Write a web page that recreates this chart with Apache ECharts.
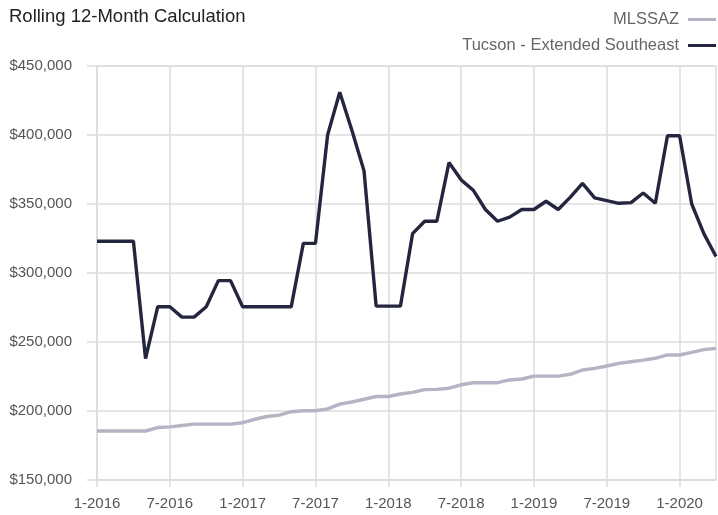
<!DOCTYPE html>
<html>
<head>
<meta charset="utf-8">
<title>Rolling 12-Month Calculation</title>
<script src="https://cdn.jsdelivr.net/npm/echarts@6/dist/echarts.min.js"></script>
<style>
  html, body { margin: 0; padding: 0; background: #ffffff; }
  #chart { width: 718px; height: 515px; }
</style>
</head>
<body>
<div id="chart"></div>
<script>
// Monthly categories, January 2016 through April 2020
const months = [
  '1-2016','2-2016','3-2016','4-2016','5-2016','6-2016','7-2016','8-2016','9-2016','10-2016','11-2016','12-2016',
  '1-2017','2-2017','3-2017','4-2017','5-2017','6-2017','7-2017','8-2017','9-2017','10-2017','11-2017','12-2017',
  '1-2018','2-2018','3-2018','4-2018','5-2018','6-2018','7-2018','8-2018','9-2018','10-2018','11-2018','12-2018',
  '1-2019','2-2019','3-2019','4-2019','5-2019','6-2019','7-2019','8-2019','9-2019','10-2019','11-2019','12-2019',
  '1-2020','2-2020','3-2020','4-2020'
];

// Rolling 12-month median price, statewide
const mlssaz = [
  185500, 185500, 185500, 185500, 185500, 188000, 188500, 189500, 190500, 190500, 190500, 190500,
  191500, 194000, 196000, 197000, 199500, 200200, 200200, 201500, 205000, 206500, 208500, 210500,
  210500, 212300, 213500, 215500, 215700, 216500, 219000, 220500, 220500, 220500, 222500, 223200,
  225300, 225300, 225300, 226600, 229700, 230900, 232600, 234500, 235700, 236900, 238200, 240600,
  240600, 242500, 244500, 245400
];

// Rolling 12-month median price, Tucson - Extended Southeast
const tucsonSE = [
  323000, 323000, 323000, 323000, 238000, 275500, 275500, 268000, 268000, 275500, 294500, 294500,
  275500, 275500, 275500, 275500, 275500, 321500, 321500, 400000, 431000, 403500, 374000, 276000,
  276000, 276000, 328500, 337500, 337500, 380000, 367500, 360000, 346000, 337500, 340500, 346000,
  346000, 352000, 346000, 355000, 365000, 354500, 352500, 350500, 351000, 358000, 350500, 399500,
  399500, 350000, 328500, 312000
];

const yTicks = { min: 150000, max: 450000, step: 50000 };

const FONT = '"Liberation Sans", Arial, sans-serif';
const GRID_COLOR = '#dddddd';

const chart = echarts.init(document.getElementById('chart'), null, { renderer: 'canvas' });

chart.setOption({
  animation: false,
  backgroundColor: '#ffffff',
  title: {
    text: 'Rolling 12-Month Calculation',
    left: 4,
    top: 2,
    textStyle: { fontFamily: FONT, fontSize: 18.5, fontWeight: 'normal', color: '#222222' }
  },
  legend: {
    orient: 'vertical',
    right: 2,
    top: 11,
    padding: 0,
    align: 'right',
    itemWidth: 28,
    itemHeight: 3,
    itemGap: 9,
    icon: 'rect',
    textStyle: { fontFamily: FONT, fontSize: 16.5, color: '#666666', padding: [0, 4, 0, 0] },
    data: ['MLSSAZ', 'Tucson - Extended Southeast']
  },
  grid: {
    left: 97,
    right: 2,
    top: 66,
    bottom: 35,
    show: true,
    borderColor: GRID_COLOR,
    borderWidth: 1.5
  },
  xAxis: {
    type: 'category',
    data: months,
    boundaryGap: false,
    axisLine: { show: true, lineStyle: { color: GRID_COLOR, width: 1.5 } },
    axisTick: { show: true, interval: 5, length: 7, lineStyle: { color: GRID_COLOR, width: 1.5 } },
    splitLine: { show: true, interval: 5, lineStyle: { color: GRID_COLOR, width: 1.5 } },
    axisLabel: {
      interval: 5,
      margin: 16,
      fontFamily: FONT,
      fontSize: 15,
      color: '#555555'
    }
  },
  yAxis: {
    type: 'value',
    min: yTicks.min,
    max: yTicks.max,
    interval: yTicks.step,
    axisLine: { show: true, lineStyle: { color: GRID_COLOR, width: 1.5 } },
    axisTick: { show: true, length: 10, lineStyle: { color: GRID_COLOR, width: 1.5 } },
    splitLine: { show: true, lineStyle: { color: GRID_COLOR, width: 1.5 } },
    axisLabel: {
      margin: 25,
      fontFamily: FONT,
      fontSize: 15,
      color: '#555555',
      formatter: function (v) { return '$' + v.toLocaleString('en-US'); }
    }
  },
  series: [
    {
      name: 'MLSSAZ',
      type: 'line',
      data: mlssaz,
      showSymbol: false,
      symbol: 'none',
      color: '#b5b3c4',
      lineStyle: { width: 3.4, color: '#b5b3c4' }
    },
    {
      name: 'Tucson - Extended Southeast',
      type: 'line',
      data: tucsonSE,
      showSymbol: false,
      symbol: 'none',
      color: '#24263f',
      lineStyle: { width: 3.4, color: '#24263f' }
    }
  ]
});
</script>
</body>
</html>
